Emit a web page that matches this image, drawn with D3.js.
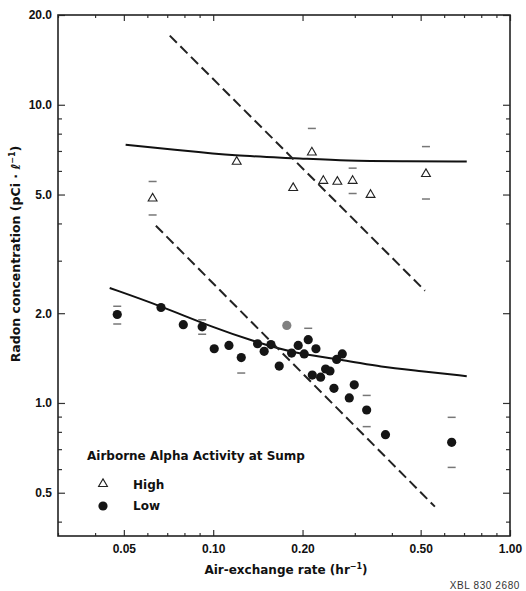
<!DOCTYPE html>
<html>
<head>
<meta charset="utf-8">
<script src="https://cdn.jsdelivr.net/npm/d3@7"></script>
<style>
  body { margin: 0; background: #fff; }
  svg { display: block; font-family: "Liberation Sans", Arial, Helvetica, sans-serif; }
  .tick-label { font-size: 12px; font-weight: bold; fill: #111; }
  .lbl { font-family: "DejaVu Sans", sans-serif; font-size: 12px; font-weight: bold; fill: #111; }
</style>
</head>
<body>
<svg id="chart" width="526" height="591"></svg>
<script>
// High activity (triangles)
var highX = [0.0625, 0.120, 0.186, 0.215, 0.235, 0.262, 0.295, 0.339, 0.521];
var highY = [4.85, 6.44, 5.26, 6.92, 5.56, 5.52, 5.56, 4.99, 5.86];
var highErrX  = [0.0625, 0.215, 0.295, 0.521];
var highErrLo = [4.27, null, 5.04, 4.83];
var highErrHi = [5.53, 8.33, 6.13, 7.24];

// Low activity (filled circles)
var lowX = [0.0475, 0.0667, 0.0793, 0.0918, 0.1008, 0.113, 0.1243, 0.1411, 0.1485, 0.1565,
            0.1669, 0.1837, 0.1934, 0.2026, 0.209, 0.2157, 0.2219, 0.2301, 0.2392, 0.2474,
            0.2552, 0.2606, 0.2722, 0.2874, 0.2987, 0.3289, 0.3806, 0.636];
var lowY = [1.98, 2.09, 1.83, 1.80, 1.52, 1.56, 1.42, 1.58, 1.49, 1.57,
            1.33, 1.47, 1.56, 1.46, 1.63, 1.24, 1.52, 1.22, 1.30, 1.28,
            1.12, 1.40, 1.46, 1.04, 1.15, 0.947, 0.783, 0.738];
var lowErrX  = [0.0475, 0.0918, 0.1243, 0.209, 0.329, 0.636];
var lowErrLo = [1.84, 1.70, 1.26, null, 0.833, 0.608];
var lowErrHi = [2.11, 1.90, null, 1.78, 1.06, 0.895];
var grayX = [0.177];
var grayY = [1.82];

// fitted curves (solid) and 1/x lines (dashed)
var highFitX = [0.0507, 0.080, 0.1168, 0.191, 0.281, 0.45, 0.715];
var highFitY = [7.35, 7.01, 6.75, 6.62, 6.48, 6.47, 6.45];
var lowFitX = [0.0448, 0.0661, 0.10, 0.14, 0.186, 0.281, 0.365, 0.50, 0.715];
var lowFitY = [2.43, 2.12, 1.79, 1.60, 1.47, 1.39, 1.32, 1.28, 1.23];
var dashHighX = [0.0714, 0.517];
var dashHighY = [17.05, 2.38];
var dashLowX = [0.0641, 0.5585];
var dashLowY = [3.93, 0.449];

var xTicks = [0.05, 0.10, 0.20, 0.50, 1.00];
var yTicks = [0.5, 1.0, 2.0, 5.0, 10.0, 20.0];
var xMinor = [0.03, 0.04, 0.06, 0.07, 0.08, 0.09, 0.3, 0.4, 0.6, 0.7, 0.8, 0.9];
var yMinor = [0.4, 0.6, 0.7, 0.8, 0.9, 3, 4, 6, 7, 8, 9];

var svg = d3.select('#chart');
var pLeft = 58, pRight = 510, pTop = 15, pBottom = 536;

var xScale = d3.scaleLog().domain([0.03, 1.0]).range([pLeft, pRight]);
var yScale = d3.scaleLog().domain([0.358, 20]).range([pBottom, pTop]);

var zip = function(xs, ys){ return xs.map(function(x, i){ return [x, ys[i]]; }); };

// frame axes, ticks inward
function addAxis(axisFn, scale, tv, len, transform, labels){
	var ax = axisFn(scale).tickValues(tv).tickSizeInner(-len).tickSizeOuter(0)
		.tickFormat(labels ? labels : "");
	var g = svg.append("g").attr("transform", transform).call(ax);
	g.select(".domain").remove();
	g.selectAll(".tick line").attr("stroke", "#333").attr("stroke-width", 1.2);
	g.selectAll(".tick text").attr("class", "tick-label");
	return g;
}
var fx = d3.format(".2f"), fy = d3.format(".1f");
var gx = addAxis(d3.axisBottom, xScale, xTicks, 6, "translate(0," + pBottom + ")", fx);
gx.selectAll(".tick text").attr("dy", "0.71em").attr("y", 8);
addAxis(d3.axisBottom, xScale, xMinor, 3, "translate(0," + pBottom + ")", null);
addAxis(d3.axisTop, xScale, xTicks, 6, "translate(0," + pTop + ")", null);
addAxis(d3.axisTop, xScale, xMinor, 3, "translate(0," + pTop + ")", null);
var gy = addAxis(d3.axisLeft, yScale, yTicks, 7, "translate(" + pLeft + ",0)", fy);
gy.selectAll(".tick text").attr("x", -6);
addAxis(d3.axisLeft, yScale, yMinor, 4, "translate(" + pLeft + ",0)", null);
addAxis(d3.axisRight, yScale, yTicks, 7, "translate(" + pRight + ",0)", null);
addAxis(d3.axisRight, yScale, yMinor, 4, "translate(" + pRight + ",0)", null);

svg.append("rect")
	.attr("x", pLeft).attr("y", pTop)
	.attr("width", pRight - pLeft).attr("height", pBottom - pTop)
	.attr("fill", "none").attr("stroke", "#222").attr("stroke-width", 1.6);

var line = d3.line()
	.x(function(d){ return xScale(d[0]); })
	.y(function(d){ return yScale(d[1]); });
var curve = d3.line()
	.x(function(d){ return xScale(d[0]); })
	.y(function(d){ return yScale(d[1]); })
	.curve(d3.curveBasis);

svg.append("path").attr("d", curve(zip(highFitX, highFitY)))
	.attr("fill", "none").attr("stroke", "#111").attr("stroke-width", 2);
svg.append("path").attr("d", curve(zip(lowFitX, lowFitY)))
	.attr("fill", "none").attr("stroke", "#111").attr("stroke-width", 2);
svg.append("path").attr("d", line(zip(dashHighX, dashHighY)))
	.attr("fill", "none").attr("stroke", "#222").attr("stroke-width", 2)
	.attr("stroke-dasharray", "10,5");
svg.append("path").attr("d", line(zip(dashLowX, dashLowY)))
	.attr("fill", "none").attr("stroke", "#222").attr("stroke-width", 2)
	.attr("stroke-dasharray", "10,5");

// error bar caps
function caps(xs, los, his){
	var c = [];
	xs.forEach(function(x, i){
		if(los[i] !== null) c.push([x, los[i]]);
		if(his[i] !== null) c.push([x, his[i]]);
	});
	svg.selectAll(null).data(c).enter().append("line")
		.attr("x1", function(d){ return xScale(d[0]) - 4; })
		.attr("x2", function(d){ return xScale(d[0]) + 4; })
		.attr("y1", function(d){ return yScale(d[1]); })
		.attr("y2", function(d){ return yScale(d[1]); })
		.attr("stroke", "#777").attr("stroke-width", 1.5);
}
caps(highErrX, highErrLo, highErrHi);
caps(lowErrX, lowErrLo, lowErrHi);

var tri = d3.symbol().type(d3.symbolTriangle).size(34);
svg.selectAll("path.high").data(zip(highX, highY)).enter().append("path")
	.attr("class", "high")
	.attr("d", tri)
	.attr("transform", function(d){ return "translate(" + xScale(d[0]) + "," + yScale(d[1]) + ")"; })
	.attr("fill", "#fff").attr("stroke", "#222").attr("stroke-width", 1.1);

svg.selectAll("circle.low").data(zip(lowX, lowY)).enter().append("circle")
	.attr("class", "low")
	.attr("cx", function(d){ return xScale(d[0]); })
	.attr("cy", function(d){ return yScale(d[1]); })
	.attr("r", 4.6).attr("fill", "#151515");
svg.selectAll("circle.gray").data(zip(grayX, grayY)).enter().append("circle")
	.attr("class", "gray")
	.attr("cx", function(d){ return xScale(d[0]); })
	.attr("cy", function(d){ return yScale(d[1]); })
	.attr("r", 4.6).attr("fill", "#808080");

// legend
var lg = svg.append("g");
lg.append("text").attr("class", "lbl").attr("x", 87).attr("y", 460).text("Airborne Alpha Activity at Sump");
lg.append("path").attr("d", tri).attr("transform", "translate(103,484)")
	.attr("fill", "#fff").attr("stroke", "#222").attr("stroke-width", 1.1);
lg.append("text").attr("class", "lbl").attr("x", 133).attr("y", 489).text("High");
lg.append("circle").attr("cx", 103).attr("cy", 506).attr("r", 4.6).attr("fill", "#151515");
lg.append("text").attr("class", "lbl").attr("x", 133).attr("y", 510).text("Low");

// axis titles
var xt = svg.append("text").attr("class", "lbl").attr("x", 286).attr("y", 574)
	.attr("text-anchor", "middle");
xt.append("tspan").text("Air-exchange rate (hr");
xt.append("tspan").attr("font-size", 8).attr("dy", -5).text("−1");
xt.append("tspan").attr("dy", 5).text(")");

var yt = svg.append("text").attr("class", "lbl").attr("transform", "translate(20,254) rotate(-90)")
	.attr("text-anchor", "middle").style("font-size", "12.5px");
yt.append("tspan").text("Radon concentration (pCi · ℓ");
yt.append("tspan").attr("font-size", 8).attr("dy", -5).text("−1");
yt.append("tspan").attr("dy", 5).text(")");

svg.append("text").attr("x", 520).attr("y", 589).attr("text-anchor", "end")
	.attr("font-size", 10).attr("letter-spacing", 0.6).attr("fill", "#333").text("XBL 830 2680");
</script>
</body>
</html>
